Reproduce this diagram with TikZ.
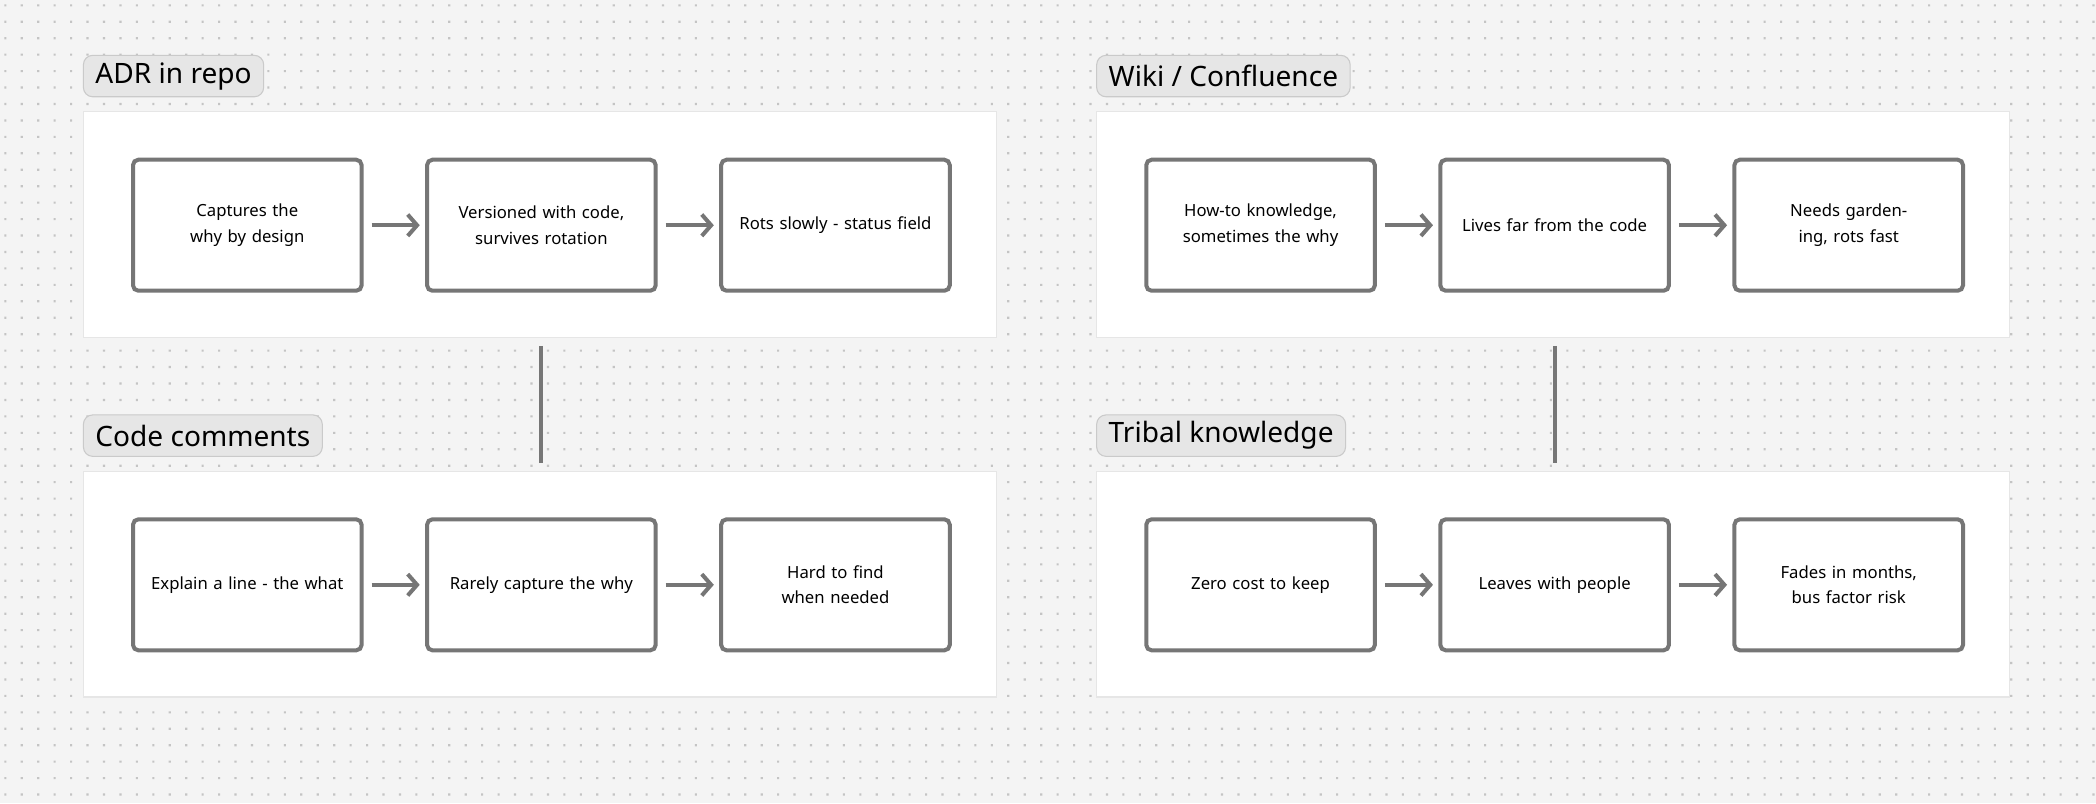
\documentclass[tikz,border=0pt]{standalone}
\usepackage{fontspec}
\setmainfont{Noto Sans}
\usetikzlibrary{arrows.meta}
\definecolor{bg}{HTML}{F4F4F4}
\definecolor{dotc}{HTML}{C4C4C4}
\definecolor{edge}{HTML}{767676}
\definecolor{pill}{HTML}{E6E6E6}
\definecolor{pillb}{HTML}{CACACA}
\definecolor{panelb}{HTML}{E6E6E6}
\begin{document}
\begin{tikzpicture}[x=1pt,y=1pt,
  panel/.style={draw=panelb,line width=0.8pt,fill=white,minimum width=683pt,minimum height=169pt,inner sep=0pt,anchor=north west},
  title/.style={draw=pillb,fill=pill,line width=0.8pt,rounded corners=7pt,anchor=north west,font=\fontsize{21}{24}\selectfont\bfseries,inner xsep=9pt,minimum height=31pt},
  box/.style={draw=edge,line width=3pt,rounded corners=4pt,fill=white,minimum width=171pt,minimum height=98pt,align=center,text width=150pt,font=\fontsize{12.5}{19}\selectfont,anchor=north west},
  arr/.style={draw=edge,line width=3pt,-{Straight Barb[length=7pt,width=16pt,line width=3pt]},shorten <=6pt,shorten >=4pt},
  conn/.style={draw=edge,line width=3pt,shorten <=6pt,shorten >=6pt}]
\useasboundingbox (0,0) rectangle (1568,-601);
\fill[bg] (0,0) rectangle (1568,-601);
\foreach \j in {0,...,48}{
  \fill[dotc] foreach \i in {0,...,127} { (3.2+\i*12.3,-3.2-\j*12.3) rectangle ++(1.6,-1.6) };
}
% panels
\node[panel] (p1) at (62,-83) {};
\node[panel] (p2) at (820,-83) {};
\node[panel] (p3) at (62,-352) {};
\node[panel] (p4) at (820,-352) {};
\node[title] (t1) at (62,-41) {ADR in repo};
\node[title] (t2) at (820,-41) {Wiki / Confluence};
\node[title] (t3) at (62,-310) {Code comments};
\node[title] (t4) at (820,-310) {Tribal knowledge};
% boxes
\node[box] (a1) at (98,-118) {Captures the why by design};
\node[box] (a2) at (318,-118) {Versioned with code, survives rotation};
\node[box] (a3) at (538,-118) {Rots slowly - status field};
\node[box] (b1) at (856,-118) {How-to knowledge, sometimes the why};
\node[box] (b2) at (1076,-118) {Lives far from the code};
\node[box] (b3) at (1296,-118) {Needs gardening, rots fast};
\node[box] (c1) at (98,-387) {Explain a line - the what};
\node[box] (c2) at (318,-387) {Rarely capture the why};
\node[box] (c3) at (538,-387) {Hard to find when needed};
\node[box] (d1) at (856,-387) {Zero cost to keep};
\node[box] (d2) at (1076,-387) {Leaves with people};
\node[box] (d3) at (1296,-387) {Fades in months, bus factor risk};
\foreach \r in {a,b,c,d}{
  \draw[arr] (\r1.east) -- (\r2.west);
  \draw[arr] (\r2.east) -- (\r3.west);
}
\draw[conn] (a2.center |- p1.south) -- (a2.center |- p3.north);
\draw[conn] (b2.center |- p2.south) -- (b2.center |- p4.north);
\end{tikzpicture}
\end{document}
